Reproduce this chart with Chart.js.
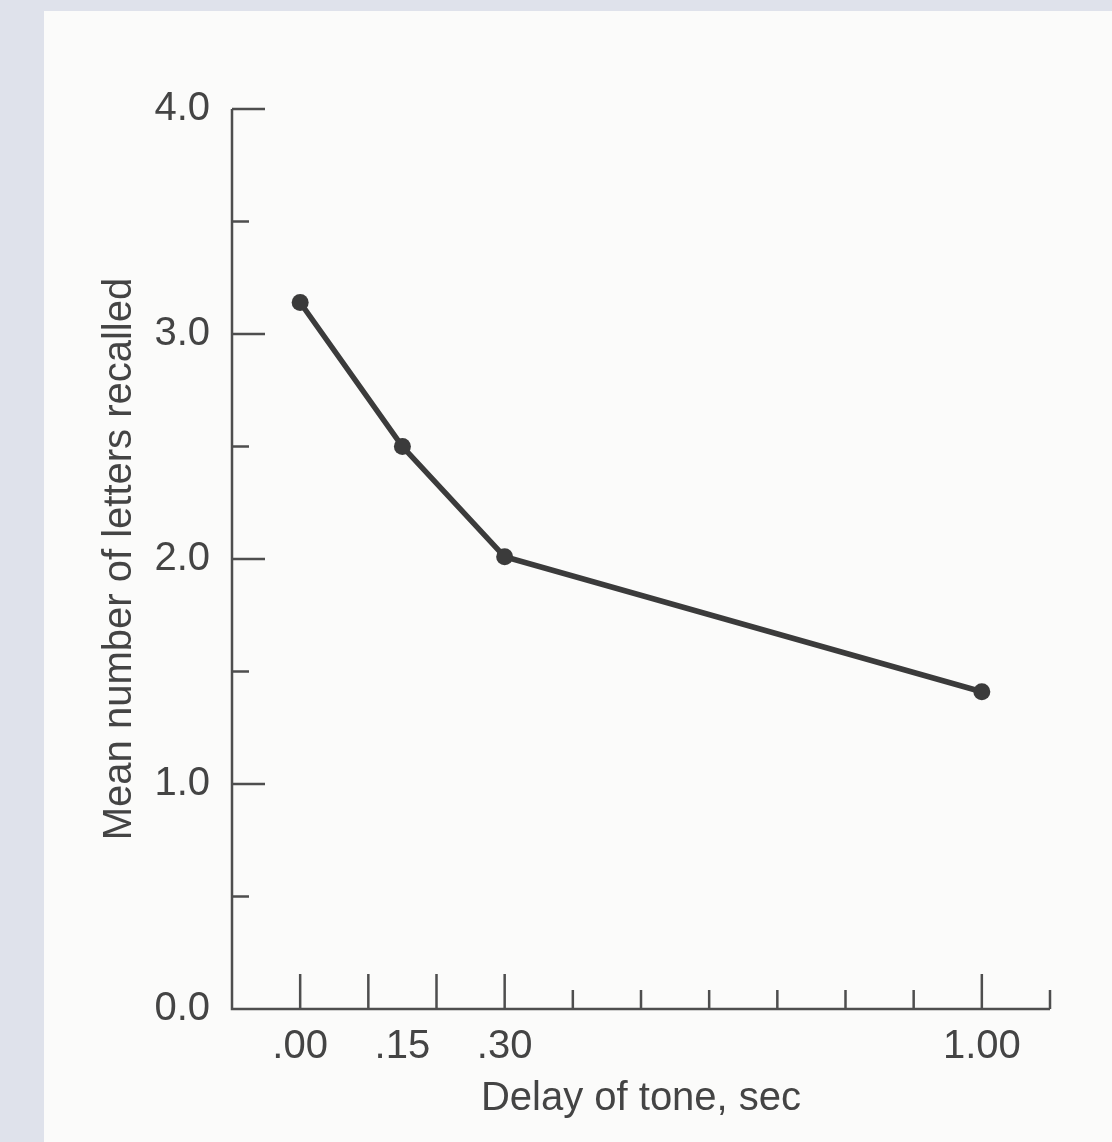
<!DOCTYPE html>
<html>
<head>
<meta charset="utf-8">
<script src="https://cdn.jsdelivr.net/npm/chart.js@4.4.1/dist/chart.umd.min.js"></script>
<style>
  html, body { margin: 0; padding: 0; background: #dfe2eb; }
  #paper { position: absolute; left: 44px; top: 11px; width: 1068px; height: 1131px; background: #fbfbfa; }
</style>
</head>
<body>
<div id="paper"><canvas id="fig"></canvas></div>
<script>
// delay of the tone (sec) and mean letters recalled
const delays = [0.0, 0.15, 0.30, 1.00];
const lettersRecalled = [3.14, 2.50, 2.01, 1.41];

const xTickValues = [0, 0.15, 0.30, 1.00];
const xTickLabels = [".00", ".15", ".30", "1.00"];
const yTickLabels = ["0.0", "1.0", "2.0", "3.0", "4.0"];

// small tick marks along the axes
const xMarks = [0, 0.1, 0.2, 0.3, 0.4, 0.5, 0.6, 0.7, 0.8, 0.9, 1.0, 1.1];
const xMajorMarks = [0, 0.1, 0.2, 0.3, 1.0];
const yMarks = [0.5, 1, 1.5, 2, 2.5, 3, 3.5, 4];

const ink = "#444444";
const fontFamily = "'Liberation Sans', Arial, sans-serif";

const axisInk = {
  id: "axisInk",
  beforeDatasetsDraw(chart) {
    const { ctx, chartArea: a, scales: { x, y } } = chart;
    ctx.save();
    ctx.strokeStyle = "#4e4e4e";
    ctx.lineWidth = 2.5;
    ctx.beginPath();
    ctx.moveTo(a.left, a.top);
    ctx.lineTo(a.left, a.bottom);
    ctx.lineTo(a.right, a.bottom);
    for (const v of xMarks) {
      const px = x.getPixelForValue(v);
      const len = xMajorMarks.includes(v) ? 35 : 19;
      ctx.moveTo(px, a.bottom);
      ctx.lineTo(px, a.bottom - len);
    }
    for (const v of yMarks) {
      const py = y.getPixelForValue(v);
      const len = Number.isInteger(v) ? 33 : 17;
      ctx.moveTo(a.left, py);
      ctx.lineTo(a.left + len, py);
    }
    ctx.stroke();
    ctx.restore();
  },
};

let ctx = document.getElementById("fig").getContext("2d");
let fig = new Chart(ctx, {
  type: "line",
  data: {
    datasets: [
      {
        data: delays.map((d, i) => ({ x: d, y: lettersRecalled[i] })),
        borderColor: "#3b3b3b",
        backgroundColor: "#3b3b3b",
        borderWidth: 5.5,
        pointRadius: 8.5,
        pointBorderWidth: 0,
        pointBackgroundColor: "#3b3b3b",
        tension: 0,
      },
    ],
  },
  options: {
    responsive: true,
    maintainAspectRatio: false,
    animation: false,
    layout: { padding: { top: 98, right: 62, left: 0, bottom: 0 } },
    plugins: {
      legend: { display: false },
      tooltip: { enabled: false },
    },
    scales: {
      x: {
        type: "linear",
        min: -0.1,
        max: 1.1,
        grid: { display: false, drawTicks: false },
        border: { display: false },
        afterBuildTicks: (s) => {
          s.ticks = xTickValues.map((v) => ({ value: v }));
        },
        afterFit: (s) => {
          s.height = 133;
        },
        ticks: {
          autoSkip: false,
          maxRotation: 0,
          padding: 14,
          color: ink,
          font: { family: fontFamily, size: 40 },
          callback: (v, i) => xTickLabels[i],
        },
        title: {
          display: true,
          text: "Delay of tone, sec",
          color: ink,
          font: { family: fontFamily, size: 40 },
          padding: { top: 0, bottom: 19 },
        },
      },
      y: {
        min: 0,
        max: 4,
        grid: { display: false, drawTicks: false },
        border: { display: false },
        afterFit: (s) => {
          s.width = 188;
        },
        ticks: {
          stepSize: 1,
          padding: 22,
          color: ink,
          font: { family: fontFamily, size: 40 },
          callback: (v) => yTickLabels[v],
        },
        title: {
          display: true,
          text: "Mean number of letters recalled",
          color: ink,
          font: { family: fontFamily, size: 40 },
          padding: { top: 52, bottom: 0 },
        },
      },
    },
  },
  plugins: [axisInk],
});
</script>
</body>
</html>
